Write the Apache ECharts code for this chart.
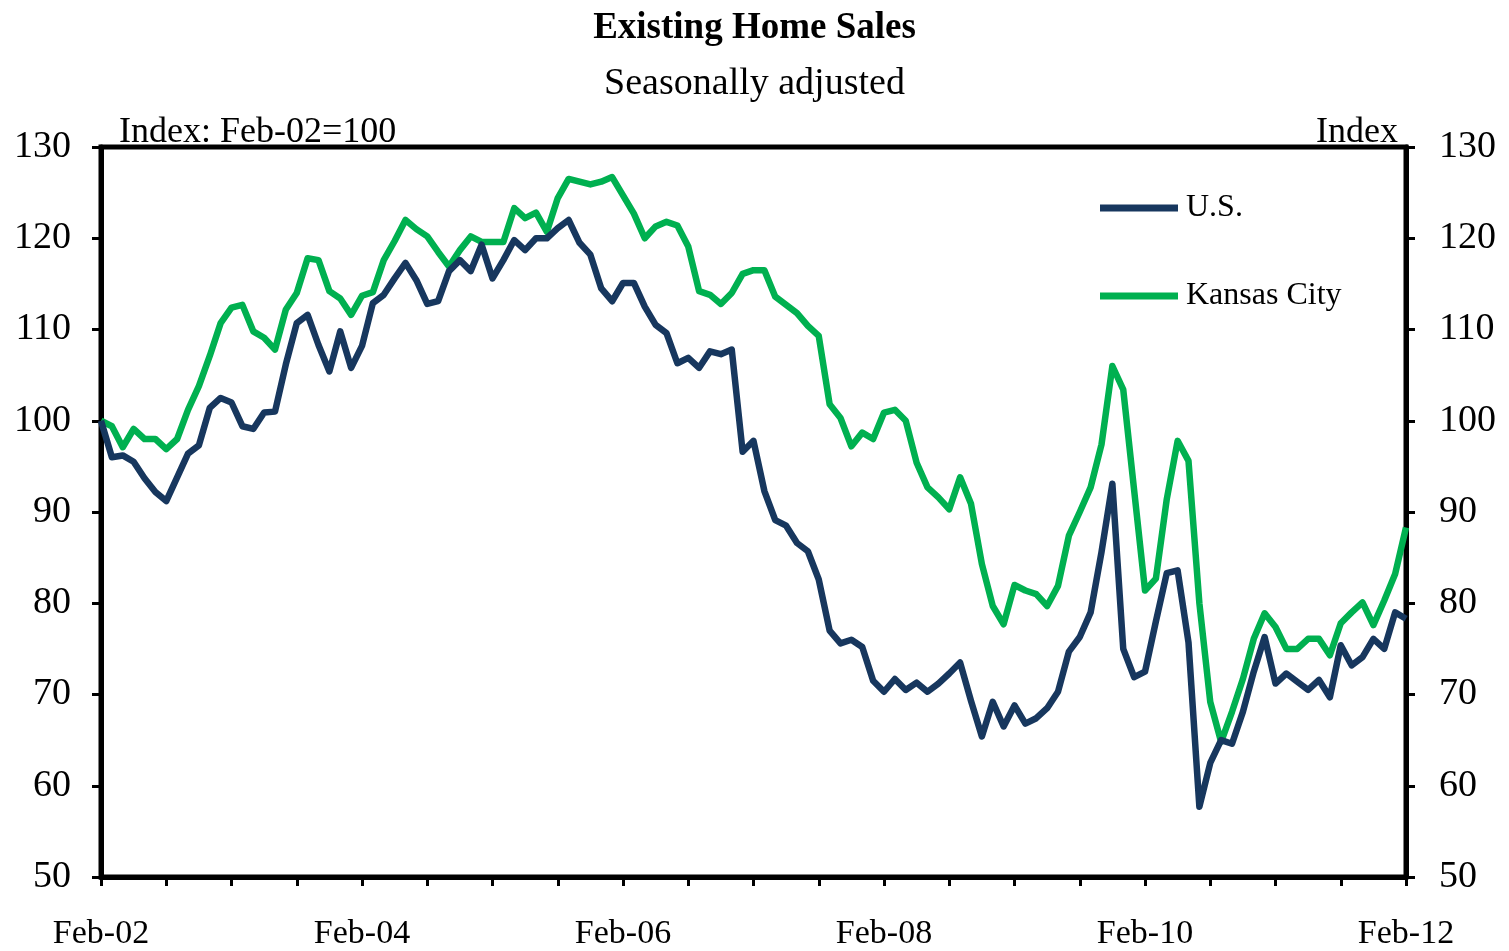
<!DOCTYPE html>
<html>
<head>
<meta charset="utf-8">
<title>Existing Home Sales</title>
<script src="https://cdn.jsdelivr.net/npm/echarts@6/dist/echarts.min.js"></script>
<style>
  html, body { margin: 0; padding: 0; background: #fff; }
  #chart { width: 1509px; height: 951px; }
</style>
</head>
<body>
<div id="chart"></div>
<script>
// monthly index values, Feb-02 .. Feb-12 (Feb-02 = 100)
const usSales = [
  100, 96.0, 96.2, 95.5, 93.7, 92.2, 91.2, 93.8, 96.4, 97.3,
  101.4, 102.5, 102.0, 99.4, 99.1, 100.9, 101.0, 106.2, 110.7, 111.6,
  108.3, 105.4, 109.8, 105.8, 108.2, 112.9, 113.8, 115.6, 117.3, 115.4,
  112.8, 113.1, 116.4, 117.6, 116.4, 119.3, 115.6, 117.6, 119.8, 118.7,
  120.0, 120.0, 121.1, 122.0, 119.5, 118.2, 114.5, 113.1, 115.1, 115.1,
  112.5, 110.5, 109.6, 106.3, 106.9, 105.8, 107.6, 107.3, 107.8, 96.6,
  97.8, 92.3, 89.1, 88.5, 86.6, 85.7, 82.6, 77.0, 75.6, 76.0,
  75.2, 71.5, 70.3, 71.7, 70.5, 71.3, 70.3, 71.2, 72.3, 73.5,
  69.3, 65.4, 69.2, 66.5, 68.8, 66.8, 67.4, 68.5, 70.3, 74.7,
  76.3, 79.0, 85.6, 93.1, 75.0, 71.9, 72.5, 78.0, 83.3, 83.6,
  75.7, 57.7, 62.5, 65.0, 64.6, 68.1, 72.5, 76.3, 71.2, 72.3,
  71.4, 70.5, 71.6, 69.7, 75.4, 73.2, 74.1, 76.1, 75.0, 79.0, 78.3
]
const kcSales = [
  100, 99.4, 97.1, 99.1, 98.0, 98.0, 96.9, 98.0, 101.2, 103.8,
  107.1, 110.7, 112.4, 112.7, 109.8, 109.1, 107.8, 112.2, 114.0, 117.8,
  117.6, 114.2, 113.4, 111.6, 113.7, 114.1, 117.6, 119.7, 122.0, 121.0,
  120.2, 118.5, 116.9, 118.7, 120.2, 119.6, 119.6, 119.6, 123.3, 122.2,
  122.8, 120.7, 124.4, 126.5, 126.2, 125.9, 126.2, 126.7, 124.7, 122.7,
  120.0, 121.3, 121.8, 121.4, 119.1, 114.2, 113.8, 112.8, 114.0, 116.1,
  116.5, 116.5, 113.6, 112.7, 111.8, 110.4, 109.3, 101.8, 100.3, 97.2,
  98.7, 98.0, 100.9, 101.2, 100.0, 95.4, 92.7, 91.6, 90.3, 93.8,
  90.9, 84.3, 79.7, 77.7, 82.0, 81.4, 81.0, 79.7, 81.9, 87.4,
  90.0, 92.7, 97.4, 106.0, 103.4, 92.4, 81.4, 82.7, 91.4, 97.8,
  95.6, 80.0, 69.2, 64.8, 68.1, 71.7, 76.1, 78.9, 77.4, 75.0,
  75.0, 76.1, 76.1, 74.3, 77.8, 79.0, 80.1, 77.6, 80.3, 83.2, 88.3
]
const monthNames = ['Jan', 'Feb', 'Mar', 'Apr', 'May', 'Jun', 'Jul', 'Aug', 'Sep', 'Oct', 'Nov', 'Dec']
const seriesNames = ['U.S.', 'Kansas City']
const seriesColors = ['#17375E', '#00B050']

// category labels like "Feb-02"
const months = usSales.map((v, i) => {
  const m = (1 + i) % 12
  const y = 2 + Math.floor((1 + i) / 12)
  return monthNames[m] + '-' + String(y).padStart(2, '0')
})

const font = "'Liberation Serif', 'Times New Roman', serif"

const chart = echarts.init(document.getElementById('chart'))

const yAxisBase = {
  type: 'value',
  min: 50,
  max: 130,
  interval: 10,
  splitLine: { show: false },
  axisLine: { show: true, lineStyle: { color: '#000', width: 5 } },
  axisTick: { show: true, inside: false, length: 9, lineStyle: { color: '#000', width: 3 } },
  axisLabel: { color: '#000', fontFamily: font, fontSize: 38 },
  nameLocation: 'end',
  nameGap: -4,
  nameTextStyle: { color: '#000', fontFamily: font, fontSize: 36 }
}

chart.setOption({
  animation: false,
  backgroundColor: '#fff',
  title: [
    {
      text: 'Existing Home Sales',
      left: 'center',
      top: 5,
      textStyle: { color: '#000', fontFamily: font, fontSize: 37, fontWeight: 'bold' }
    },
    {
      text: 'Seasonally adjusted',
      left: 'center',
      top: 60,
      textStyle: { color: '#000', fontFamily: font, fontSize: 38, fontWeight: 'normal' }
    }
  ],
  legend: {
    data: seriesNames,
    orient: 'vertical',
    left: 1100,
    top: 192,
    padding: 0,
    icon: 'rect',
    itemWidth: 78,
    itemHeight: 7,
    itemGap: 56,
    textStyle: { color: '#000', fontFamily: font, fontSize: 32, lineHeight: 30, padding: [0, 0, 0, 3] }
  },
  grid: {
    left: 101,
    right: 103,
    top: 147,
    bottom: 72,
    show: true,
    borderColor: '#000',
    borderWidth: 5,
    backgroundColor: '#fff'
  },
  xAxis: {
    type: 'category',
    data: months,
    boundaryGap: false,
    axisLine: { lineStyle: { color: '#000', width: 5 } },
    axisTick: {
      interval: i => i % 6 === 0,
      length: 9,
      lineStyle: { color: '#000', width: 3 }
    },
    axisLabel: {
      interval: i => i % 24 === 0,
      margin: 40,
      color: '#000',
      fontFamily: font,
      fontSize: 34
    }
  },
  yAxis: [
    {
      ...yAxisBase,
      position: 'left',
      name: 'Index: Feb-02=100',
      axisLabel: { ...yAxisBase.axisLabel, margin: 30 },
      nameTextStyle: { ...yAxisBase.nameTextStyle, align: 'left', padding: [0, 0, 0, 18] }
    },
    {
      ...yAxisBase,
      position: 'right',
      name: 'Index',
      axisLabel: { ...yAxisBase.axisLabel, margin: 33 },
      nameTextStyle: { ...yAxisBase.nameTextStyle, align: 'right', padding: [0, 8, 0, 0] }
    }
  ],
  series: [
    {
      name: seriesNames[0],
      type: 'line',
      data: usSales,
      showSymbol: false,
      color: seriesColors[0],
      lineStyle: { width: 6.5, join: 'round' },
      z: 3
    },
    {
      name: seriesNames[1],
      type: 'line',
      data: kcSales,
      showSymbol: false,
      color: seriesColors[1],
      lineStyle: { width: 6.5, join: 'round' },
      z: 2
    }
  ]
})
</script>
</body>
</html>
